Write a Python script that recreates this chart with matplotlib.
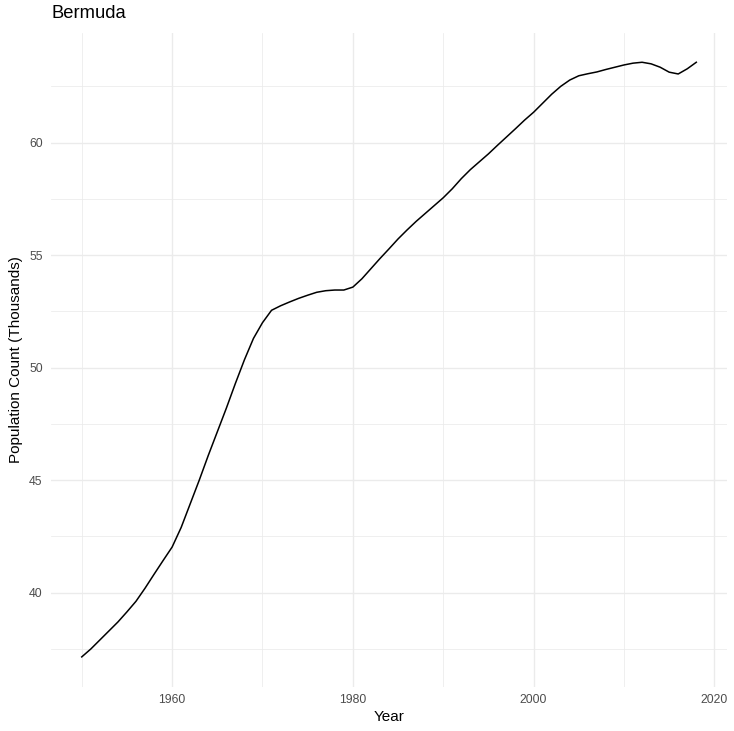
import numpy as np
import matplotlib
matplotlib.use("Agg")
import matplotlib.pyplot as plt
from matplotlib.ticker import MultipleLocator

plt.rcParams['font.family'] = ['Liberation Sans', 'DejaVu Sans']

# Bermuda population, thousands
years = list(range(1950, 2019))
population = [
    37.15, 37.50, 37.90, 38.30, 38.70, 39.15, 39.62, 40.20, 40.82, 41.43,
    42.03, 42.90, 43.95, 45.00, 46.10, 47.15, 48.20, 49.30, 50.35, 51.30,
    52.00, 52.55, 52.75, 52.92, 53.08, 53.22, 53.35, 53.42, 53.45, 53.45,
    53.58, 53.95, 54.40, 54.85, 55.28, 55.72, 56.12, 56.50, 56.85, 57.20,
    57.55, 57.95, 58.40, 58.80, 59.15, 59.50, 59.88, 60.25, 60.62, 61.00,
    61.35, 61.75, 62.15, 62.50, 62.78, 62.97, 63.06, 63.14, 63.25, 63.35,
    63.45, 63.53, 63.57, 63.50, 63.35, 63.13, 63.05, 63.28, 63.57,
]

fig = plt.figure(figsize=(7.34, 7.31), dpi=100)
ax = fig.add_axes([0.0695, 0.0607, 0.921, 0.8948])

ax.plot(years, population, color='black', linewidth=1.1, zorder=3)

# ggplot-style 5% expansion
xr = max(years) - min(years)
yr = max(population) - min(population)
ax.set_xlim(min(years) - 0.05 * xr, max(years) + 0.05 * xr)
ax.set_ylim(min(population) - 0.05 * yr, max(population) + 0.05 * yr)

ax.xaxis.set_major_locator(MultipleLocator(20))
ax.xaxis.set_minor_locator(MultipleLocator(10))
ax.yaxis.set_major_locator(MultipleLocator(5))
ax.yaxis.set_minor_locator(MultipleLocator(2.5))

ax.grid(which='major', color='#ebebeb', linewidth=1.0)
ax.grid(which='minor', color='#ebebeb', linewidth=0.55)
ax.set_axisbelow(True)

for s in ax.spines.values():
    s.set_visible(False)
ax.tick_params(which='both', length=0)
ax.tick_params(axis='x', labelsize=8.8, labelcolor='#4d4d4d', pad=5)
ax.tick_params(axis='y', labelsize=8.8, labelcolor='#4d4d4d', pad=6)

ax.set_xlabel('Year', fontsize=11, labelpad=3)
ax.set_ylabel('Population Count (Thousands)', fontsize=11, labelpad=4)
fig.text(0.0695, 0.982, 'Bermuda', fontsize=13.2, ha='left', va='center')

fig.savefig('out.png', dpi=100)
